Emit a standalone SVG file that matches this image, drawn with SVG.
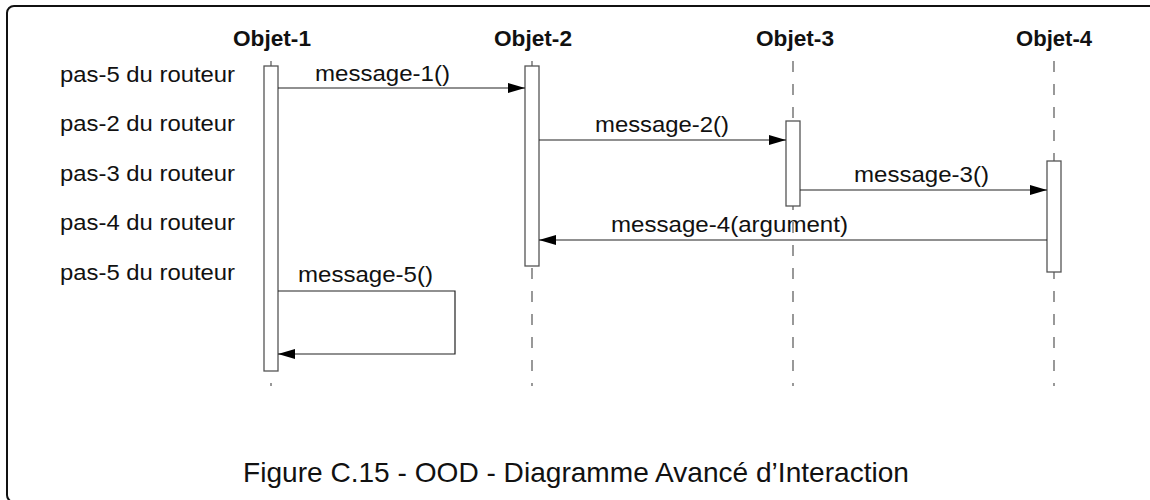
<svg xmlns="http://www.w3.org/2000/svg" width="1150" height="500" viewBox="0 0 1150 500">
<style>
  .lbl { font-family: "Liberation Sans", Arial, sans-serif; font-size: 22px; fill: #111; }
  .hdr { font-family: "Liberation Sans", Arial, sans-serif; font-size: 22px; font-weight: bold; fill: #111; text-anchor: middle; }
  .cap { font-family: "Liberation Sans", Arial, sans-serif; font-size: 28px; fill: #111; }
  .life { stroke: #555; stroke-width: 1.2; stroke-dasharray: 11 12; fill: none; }
  .act { fill: #fff; stroke: #555; stroke-width: 1.3; }
  .msg { stroke: #222; stroke-width: 1.2; fill: none; }
</style>
<defs>
  <marker id="arrow" viewBox="0 0 17 10" refX="17" refY="5" markerWidth="17" markerHeight="10" markerUnits="userSpaceOnUse" orient="auto">
    <path d="M0,0 L17,5 L0,10 Z" fill="#000"/>
  </marker>
</defs>
<rect x="7" y="6" width="1170" height="496" rx="7" ry="7" fill="none" stroke="#111" stroke-width="2"/>

<g id="labels">
  <text class="lbl" x="60" y="82" textLength="175" lengthAdjust="spacingAndGlyphs">pas-5 du routeur</text>
  <text class="lbl" x="60" y="131" textLength="175" lengthAdjust="spacingAndGlyphs">pas-2 du routeur</text>
  <text class="lbl" x="60" y="181" textLength="175" lengthAdjust="spacingAndGlyphs">pas-3 du routeur</text>
  <text class="lbl" x="60" y="230" textLength="175" lengthAdjust="spacingAndGlyphs">pas-4 du routeur</text>
  <text class="lbl" x="60" y="280" textLength="175" lengthAdjust="spacingAndGlyphs">pas-5 du routeur</text>
</g>

<g id="objet-1">
  <text class="hdr" x="272" y="46" textLength="78" lengthAdjust="spacingAndGlyphs">Objet-1</text>
  <line class="life" x1="271" y1="61" x2="271" y2="386"/>
  <rect class="act" x="264" y="66" width="14" height="305"/>
</g>
<g id="objet-2">
  <text class="hdr" x="533" y="46" textLength="78" lengthAdjust="spacingAndGlyphs">Objet-2</text>
  <line class="life" x1="532" y1="61" x2="532" y2="386"/>
  <rect class="act" x="525" y="66" width="14" height="200"/>
</g>
<g id="objet-3">
  <text class="hdr" x="795" y="46" textLength="78" lengthAdjust="spacingAndGlyphs">Objet-3</text>
  <line class="life" x1="793" y1="61" x2="793" y2="386"/>
  <rect class="act" x="786" y="121" width="14" height="85"/>
</g>
<g id="objet-4">
  <text class="hdr" x="1054" y="46" textLength="76" lengthAdjust="spacingAndGlyphs">Objet-4</text>
  <line class="life" x1="1054" y1="61" x2="1054" y2="386"/>
  <rect class="act" x="1047" y="161" width="14" height="111"/>
</g>

<g id="connectors">
  <line class="msg" x1="278" y1="88" x2="525" y2="88" marker-end="url(#arrow)"/>
  <text class="lbl" x="315" y="81" textLength="135" lengthAdjust="spacingAndGlyphs">message-1()</text>
  <line class="msg" x1="539" y1="140" x2="786" y2="140" marker-end="url(#arrow)"/>
  <text class="lbl" x="595" y="132" textLength="134" lengthAdjust="spacingAndGlyphs">message-2()</text>
  <line class="msg" x1="800" y1="190" x2="1047" y2="190" marker-end="url(#arrow)"/>
  <text class="lbl" x="854" y="182" textLength="135" lengthAdjust="spacingAndGlyphs">message-3()</text>
  <line class="msg" x1="1047" y1="240" x2="539" y2="240" marker-end="url(#arrow)"/>
  <text class="lbl" x="611" y="232" textLength="237" lengthAdjust="spacingAndGlyphs">message-4(argument)</text>
  <polyline class="msg" points="278,291 455,291 455,354 278,354" marker-end="url(#arrow)"/>
  <text class="lbl" x="298" y="282" textLength="135" lengthAdjust="spacingAndGlyphs">message-5()</text>
</g>

<text class="cap" x="243" y="482" textLength="666" lengthAdjust="spacingAndGlyphs">Figure C.15 - OOD - Diagramme Avancé d’Interaction</text>
</svg>
